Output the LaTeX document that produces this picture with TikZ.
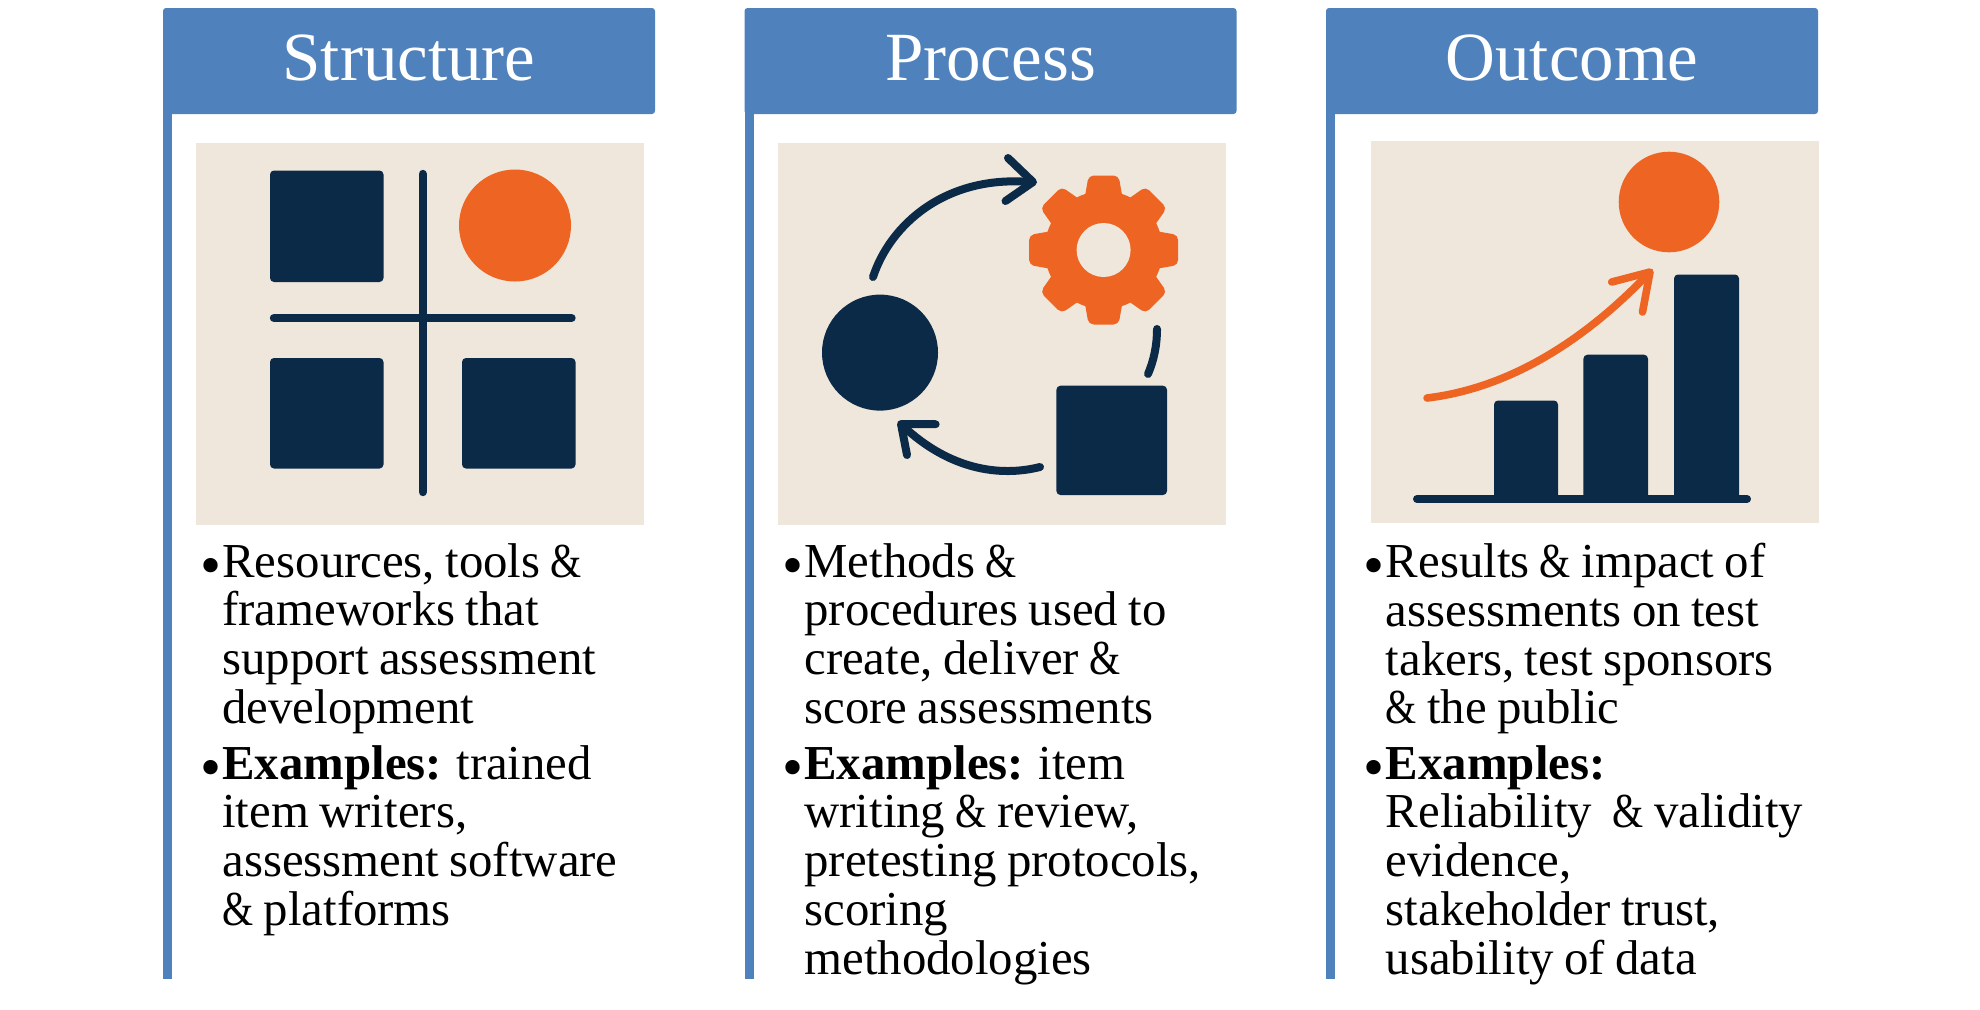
\documentclass[tikz,border=0pt]{standalone}
\usepackage{fontspec}
\setmainfont[WordSpace=0.85]{Liberation Serif}
\definecolor{hdrblue}{HTML}{4F81BD}
\definecolor{panelbg}{HTML}{EFE7DC}
\definecolor{navy}{HTML}{0B2A47}
\definecolor{accent}{HTML}{EE6423}
\newcommand{\nar}{\scalebox{0.82}[1]{\&}}
\tikzset{
  header/.style={fill=hdrblue,text=white,rounded corners=1.5pt,minimum width=246pt,minimum height=53pt,inner sep=0pt,
    text height=23pt,text depth=3.5pt,font=\fontsize{34.5}{40}\selectfont},
  bodytxt/.style={inner sep=0pt,anchor=north west,align=left,font=\fontsize{24.4}{24.35}\selectfont},
  dotmark/.style={inner sep=0pt,anchor=base,font=\fontsize{30}{30}\selectfont},
  tile/.style={navy,rounded corners=2pt},
  curve/.style={navy,line width=4pt,line cap=round,line join=round},
  risecurve/.style={accent,line width=3.8pt,line cap=round,line join=round},
}
\begin{document}
\begin{tikzpicture}[x=0.5pt,y=-0.5pt]
  \useasboundingbox (0,0) rectangle (1980,1009);
% the three columns
  \fill[hdrblue] (163,100) rectangle (172,979);
  \node[header] (hdrS) at (409,61) {Structure};
  \fill[hdrblue] (745,100) rectangle (754,979);
  \node[header] (hdrP) at (990.5,61) {Process};
  \fill[hdrblue] (1326,100) rectangle (1335,979);
  \node[header] (hdrO) at (1572,61) {Outcome};
  \fill[panelbg] (196,143) rectangle (644,525);
  \fill[panelbg] (778,143) rectangle (1226,525);
  \fill[panelbg] (1371,140.5) rectangle (1819,523);
% first icon
  \fill[tile] (270,170.5) rectangle (383.5,282);
  \fill[tile] (270,358) rectangle (383.5,468.5);
  \fill[tile] (462,358) rectangle (575.5,468.5);
  \fill[accent] (515,225.5) circle (56);
  \draw[navy,line width=4.2pt,line cap=round] (422.7,174) -- (422.7,492);
  \draw[navy,line width=4.2pt,line cap=round] (274,318) -- (571.5,318);
% second icon
  \fill[navy] (880,352.6) circle (58);
  \fill[tile] (1056.4,385.7) rectangle (1167,495);
  \draw[curve] (873,277) .. controls (890,225) and (945,175) .. (1030,182);
  \draw[curve] (1008,158) -- (1033,182) -- (1005.5,201);
  \draw[curve] (1157,329) .. controls (1157,345) and (1154,360) .. (1148,374);
  \draw[curve] (1040,467) .. controls (1000,477) and (950,470) .. (903,426);
  \draw[curve] (935.6,424.2) -- (901,424) -- (907,455);
  \coordinate (gear) at (1103.6,250);
  \fill[accent] (gear) circle (59);
  \foreach \a in {0,45,...,315}
    \fill[accent,rounded corners=2.5pt,shift={(gear)},rotate=\a] (46,-20) -- (74.5,-15) -- (74.5,15) -- (46,20) -- cycle;
  \fill[panelbg] (gear) circle (27);
% third icon
  \fill[tile] (1494,400.5) rectangle (1558,499);
  \fill[tile] (1583.4,354.7) rectangle (1648,499);
  \fill[tile] (1674,274.5) rectangle (1739,499);
  \draw[navy,line width=4pt,line cap=round] (1417,499) -- (1747,499);
  \fill[accent] (1669,202) circle (50.3);
  \draw[risecurve] (1427,398) .. controls (1510,388) and (1585,340) .. (1648,274);
  \draw[risecurve] (1611.7,282) -- (1650,272) -- (1642.5,312);
% text
  \node[dotmark] (dotS1) at (211,585.5) {•};
  \node[bodytxt] (txtS1) at (222,543) {Resources, tools \nar\\frameworks that\\support assessment\\development};
  \node[dotmark] (dotS2) at (211,787.5) {•};
  \node[bodytxt] (txtS2) at (222,745) {\textbf{Examples:} trained\\item writers,\\assessment software\\\nar{} platforms};
  \node[dotmark] (dotP1) at (793,585.5) {•};
  \node[bodytxt] (txtP1) at (804,543) {Methods \nar\\procedures used to\\create, deliver \nar\\score assessments};
  \node[dotmark] (dotP2) at (793,787.5) {•};
  \node[bodytxt] (txtP2) at (804,745) {\textbf{Examples:} item\\writing \nar{} review,\\pretesting protocols,\\scoring\\methodologies};
  \node[dotmark] (dotO1) at (1374,585.5) {•};
  \node[bodytxt] (txtO1) at (1385.5,543) {Results \nar{} impact of\\assessments on test\\takers, test sponsors\\\nar{} the public};
  \node[dotmark] (dotO2) at (1374,787.5) {•};
  \node[bodytxt] (txtO2) at (1385.5,745) {\textbf{Examples:}\\Reliability\ \ \nar{} validity\\evidence,\\stakeholder trust,\\usability of data};
\end{tikzpicture}
\end{document}
